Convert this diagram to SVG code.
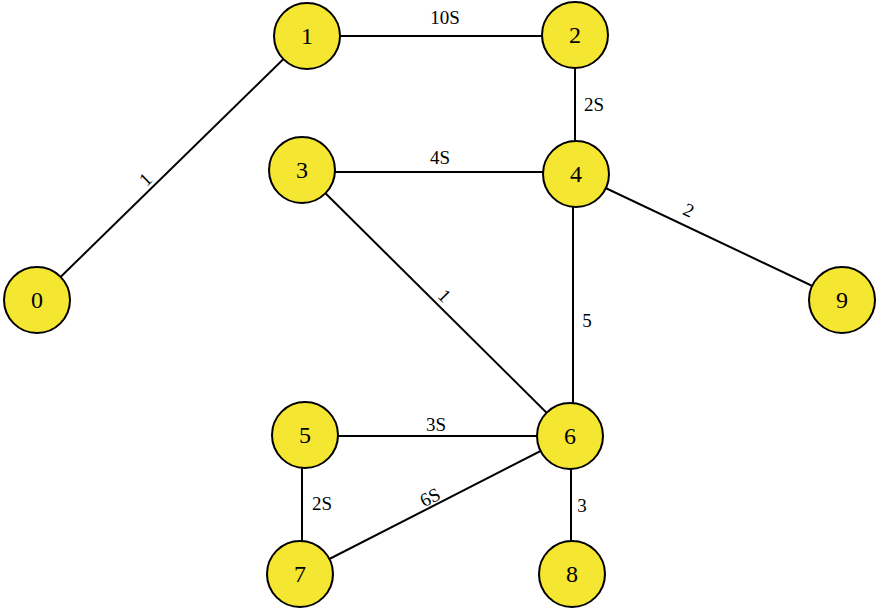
<svg xmlns="http://www.w3.org/2000/svg" width="878" height="608" viewBox="0 0 878 608">
<style>
.e{stroke:#000;stroke-width:2;fill:none}
.n circle{fill:#f5e631;stroke:#000;stroke-width:2}
.n text{font-family:"Liberation Serif",serif;font-size:24px;text-anchor:middle;fill:#000}
.l{font-family:"Liberation Serif",serif;font-size:19px;text-anchor:middle;fill:#000}
</style>
<rect width="878" height="608" fill="#fff"/>
<g id="connectors">
<line class="e" x1="37" y1="300" x2="307" y2="36"/>
<line class="e" x1="307" y1="36" x2="575" y2="36"/>
<line class="e" x1="575" y1="36" x2="575" y2="174"/>
<line class="e" x1="302" y1="172" x2="576" y2="172"/>
<line class="e" x1="576" y1="174" x2="842" y2="300"/>
<line class="e" x1="302" y1="170" x2="570" y2="436"/>
<line class="e" x1="573" y1="174" x2="573" y2="436"/>
<line class="e" x1="305" y1="436" x2="570" y2="436"/>
<line class="e" x1="302" y1="435" x2="302" y2="574"/>
<line class="e" x1="300" y1="574" x2="570" y2="436"/>
<line class="e" x1="571" y1="436" x2="571" y2="574"/>
<text class="l" transform="translate(150,184) rotate(-44)">1</text>
<text class="l" x="445" y="24">10S</text>
<text class="l" x="594" y="111">2S</text>
<text class="l" x="440" y="164">4S</text>
<text class="l" transform="translate(686,216) rotate(25)">2</text>
<text class="l" transform="translate(440,300) rotate(45)">1</text>
<text class="l" x="587" y="327">5</text>
<text class="l" x="436" y="431">3S</text>
<text class="l" x="322" y="510">2S</text>
<text class="l" transform="translate(433,503) rotate(-27)">6S</text>
<text class="l" x="582" y="512">3</text>
</g>
<g id="node0" class="n"><circle cx="37" cy="300" r="33"/><text x="37" y="308">0</text></g>
<g id="node1" class="n"><circle cx="307" cy="36" r="33"/><text x="307" y="44">1</text></g>
<g id="node2" class="n"><circle cx="575" cy="35" r="33"/><text x="575" y="43">2</text></g>
<g id="node3" class="n"><circle cx="302" cy="170" r="33"/><text x="302" y="178">3</text></g>
<g id="node4" class="n"><circle cx="576" cy="174" r="33"/><text x="576" y="182">4</text></g>
<g id="node9" class="n"><circle cx="842" cy="300" r="33"/><text x="842" y="308">9</text></g>
<g id="node5" class="n"><circle cx="305" cy="435" r="33"/><text x="305" y="443">5</text></g>
<g id="node6" class="n"><circle cx="570" cy="436" r="33"/><text x="570" y="444">6</text></g>
<g id="node7" class="n"><circle cx="300" cy="574" r="33"/><text x="300" y="582">7</text></g>
<g id="node8" class="n"><circle cx="572" cy="574" r="33"/><text x="572" y="582">8</text></g>
</svg>
